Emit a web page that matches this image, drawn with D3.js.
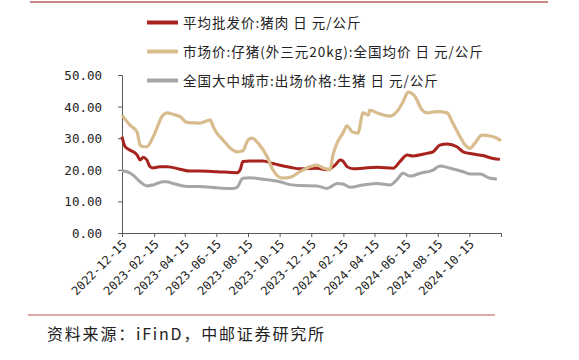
<!DOCTYPE html>
<html><head><meta charset="utf-8">
<script src="https://cdn.jsdelivr.net/npm/d3@7"></script>
<style>body{margin:0;background:#fff}svg{display:block}</style>
</head><body>
<svg id="c" width="579" height="360"></svg>
<script>
const seriesNames = ["平均批发价:猪肉 日 元/公斤","市场价:仔猪(外三元20kg):全国均价 日 元/公斤","全国大中城市:出场价格:生猪 日 元/公斤"];
const seriesColors = ["#A8231E","#D8BC8E","#A6A6A6"];
const xTickLabels = ["2022-12-15","2023-02-15","2023-04-15","2023-06-15","2023-08-15","2023-10-15","2023-12-15","2024-02-15","2024-04-15","2024-06-15","2024-08-15","2024-10-15"];
const yTicks = [0,10,20,30,40,50];
const pork = [["2022-12-15",30.5],["2022-12-21",27.3],["2022-12-30",26.3],["2023-01-13",24.7],["2023-01-19",23.1],["2023-01-25",24.0],["2023-02-01",23.1],["2023-02-07",21.0],["2023-02-13",20.6],["2023-02-26",21.0],["2023-03-12",21.0],["2023-04-06",20.2],["2023-04-25",19.6],["2023-05-14",19.6],["2023-06-16",19.4],["2023-07-25",19.1],["2023-07-31",20.0],["2023-08-05",22.6],["2023-08-19",22.8],["2023-09-13",22.8],["2023-10-02",22.0],["2023-10-22",21.2],["2023-11-04",20.8],["2023-11-23",20.3],["2023-12-26",20.5],["2024-01-14",20.0],["2024-01-30",21.5],["2024-02-09",23.1],["2024-02-14",22.8],["2024-02-22",21.0],["2024-03-05",20.3],["2024-03-24",20.5],["2024-04-20",20.8],["2024-05-21",20.5],["2024-06-03",22.6],["2024-06-17",24.7],["2024-06-28",24.4],["2024-07-25",25.2],["2024-08-06",25.7],["2024-08-19",27.8],["2024-09-02",28.2],["2024-09-21",27.3],["2024-10-03",25.7],["2024-10-22",25.0],["2024-11-10",24.5],["2024-11-30",23.6],["2024-12-13",23.3]];
const piglet = [["2022-12-15",37.3],["2022-12-30",34.2],["2023-01-13",32.0],["2023-01-19",27.8],["2023-01-25",27.3],["2023-02-01",27.3],["2023-02-13",30.4],["2023-03-04",37.3],["2023-03-12",38.0],["2023-03-23",37.6],["2023-04-06",36.8],["2023-04-19",35.0],["2023-05-14",34.8],["2023-05-28",35.5],["2023-06-03",35.8],["2023-06-09",33.6],["2023-06-16",31.6],["2023-06-28",29.4],["2023-07-11",27.0],["2023-07-25",25.7],["2023-08-05",26.0],["2023-08-15",29.4],["2023-08-23",30.0],["2023-09-03",28.5],["2023-09-21",24.1],["2023-10-02",20.0],["2023-10-20",17.4],["2023-11-04",17.6],["2023-11-23",19.4],["2023-12-13",21.0],["2023-12-26",21.5],["2024-01-07",20.6],["2024-01-20",20.0],["2024-01-26",24.7],["2024-02-03",28.5],["2024-02-14",31.6],["2024-02-22",33.9],["2024-03-03",32.0],["2024-03-14",31.6],["2024-03-24",38.0],["2024-04-03",37.3],["2024-04-06",38.9],["2024-04-20",38.0],["2024-05-15",37.0],["2024-05-28",38.4],["2024-06-09",41.5],["2024-06-19",44.6],["2024-07-02",43.3],["2024-07-06",42.0],["2024-07-16",38.9],["2024-07-25",38.0],["2024-08-14",38.4],["2024-09-02",38.0],["2024-09-13",34.8],["2024-09-27",30.5],["2024-10-07",27.8],["2024-10-16",26.8],["2024-10-26",28.5],["2024-11-08",31.0],["2024-11-24",30.7],["2024-12-07",30.0],["2024-12-15",29.2]];
const hog = [["2022-12-15",19.6],["2022-12-25",19.4],["2023-01-05",18.4],["2023-01-19",16.2],["2023-02-01",14.9],["2023-02-13",15.2],["2023-03-04",16.2],["2023-03-12",16.2],["2023-03-23",15.7],["2023-04-12",14.9],["2023-04-25",14.7],["2023-05-14",14.7],["2023-06-16",14.3],["2023-07-17",14.1],["2023-07-25",14.5],["2023-08-05",17.3],["2023-08-19",17.5],["2023-09-13",17.0],["2023-10-16",16.2],["2023-11-04",15.3],["2023-11-23",15.0],["2023-12-26",14.9],["2024-01-14",14.1],["2024-02-03",15.7],["2024-02-14",15.5],["2024-02-28",14.5],["2024-03-24",15.2],["2024-04-20",15.7],["2024-05-15",15.2],["2024-05-28",16.8],["2024-06-09",18.9],["2024-06-23",18.0],["2024-07-12",18.9],["2024-08-06",19.9],["2024-08-19",21.2],["2024-09-08",20.5],["2024-10-03",19.4],["2024-10-16",18.7],["2024-11-05",18.7],["2024-11-24",17.3],["2024-12-07",17.1]];
const sourceText = "资料来源：iFinD，中邮证券研究所";

const svg = d3.select("#c");
const parse = d3.timeParse("%Y-%m-%d");
const x = d3.scaleTime().domain([parse("2022-12-15"), parse("2024-12-15")]).range([122, 501]);
const y = d3.scaleLinear().domain([0, 50]).range([233, 75]);

// top & bottom rules
svg.append("line").attr("x1",30).attr("x2",548).attr("y1",2).attr("y2",2).attr("stroke","#B8625C").attr("stroke-width",1.5);
svg.append("line").attr("x1",28).attr("x2",495).attr("y1",315).attr("y2",315).attr("stroke","#C0504D").attr("stroke-width",1.2);

// y axis
const ya = svg.append("g").attr("transform","translate(122,0)")
  .call(d3.axisLeft(y).tickValues(yTicks).tickSize(4).tickFormat(d3.format(".2f")));
ya.select(".domain").attr("stroke","#595959");
ya.selectAll(".tick line").attr("stroke","#595959");
ya.selectAll("text").attr("font-family","DejaVu Sans Mono").attr("font-size",12.5).attr("fill","#222").attr("dx",-13).attr("dy","0.36em");

// x axis
const xa = svg.append("g").attr("transform","translate(0,233)")
  .call(d3.axisBottom(x).tickValues(xTickLabels.map(parse)).tickSize(4).tickFormat(d3.timeFormat("%Y-%m-%d")));
xa.select(".domain").attr("stroke","#595959");
xa.selectAll(".tick line").attr("stroke","#595959");
xa.selectAll("text").attr("font-family","DejaVu Sans Mono").attr("font-size",12).attr("fill","#222")
  .attr("text-anchor","end").attr("y",0).attr("dy",0)
  .attr("transform","translate(5,12) rotate(-45)");

// lines
const line = d3.line().x(d=>x(parse(d[0]))).y(d=>y(d[1])).curve(d3.curveMonotoneX);
[[hog,2],[pork,0],[piglet,1]].forEach(([data,i])=>{
  svg.append("path").datum(data).attr("d",line).attr("fill","none")
    .attr("stroke",seriesColors[i]).attr("stroke-width",i===1?3.2:3).attr("stroke-linejoin","round");
});

// legend
seriesNames.forEach((n,i)=>{
  const ly = 22.5 + i*29;
  svg.append("line").attr("x1",147).attr("x2",178).attr("y1",ly).attr("y2",ly).attr("stroke",seriesColors[i]).attr("stroke-width",4);
  svg.append("text").attr("x",183).attr("y",ly+5).text(n)
    .attr("font-family","Noto Sans CJK SC").attr("font-size",13.5).attr("fill","#222").attr("letter-spacing",1);
});

svg.append("text").attr("x",47).attr("y",340).text(sourceText)
  .attr("font-family","Noto Sans CJK SC").attr("font-size",16).attr("fill","#222").attr("letter-spacing",1.8);
</script>
</body></html>
